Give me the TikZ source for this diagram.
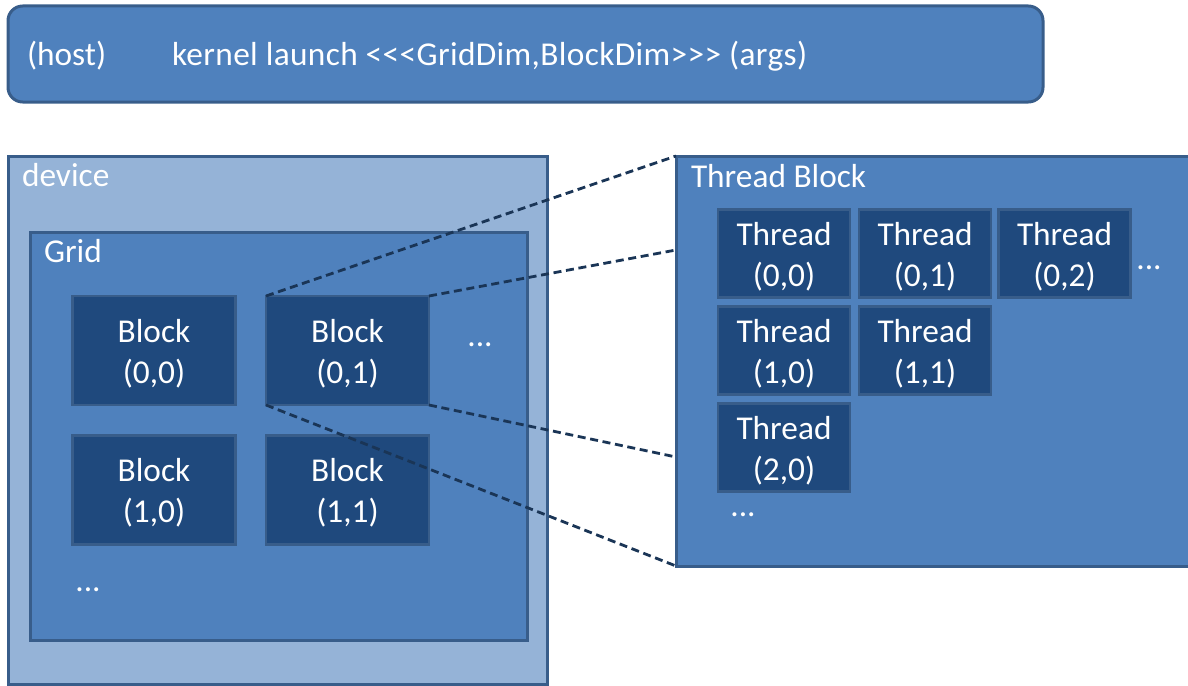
\documentclass[tikz,border=0pt]{standalone}
\usepackage{fontspec}
\setmainfont{Carlito}[Ligatures=TeXOff]
\definecolor{midblue}{HTML}{4F81BD}
\definecolor{paleblue}{HTML}{95B3D7}
\definecolor{navy}{HTML}{1F497D}
\definecolor{edgeblue}{HTML}{385D8A}
\definecolor{dashnavy}{HTML}{1A3556}
\begin{document}
\begin{tikzpicture}[x=0.75pt,y=-0.75pt,
  every node/.style={outer sep=0pt,inner sep=0pt,text=white,
    font=\fontsize{25pt}{31pt}\selectfont},
  every label/.style={align=center,text=white,yshift=-2.25pt},
  panel/.style={draw=edgeblue,line width=2.25pt,rectangle},
  cell/.style={draw=edgeblue,line width=1.9pt,fill=navy,rectangle},
  blockcell/.style={cell,minimum width=122.25pt,minimum height=81.75pt},
  threadcell/.style={cell,minimum width=99pt,minimum height=66pt},
  caption/.style={anchor=base west},
  dots/.style={anchor=base},
  zoomline/.style={draw=dashnavy,line width=2.1pt,dash pattern=on 6pt off 3.5pt}
]
\useasboundingbox (0,0) rectangle (1188,685);
\clip (0,0) rectangle (1188,685);

% host launch bar
\node[panel,fill=midblue,rounded corners=11pt,minimum width=776.25pt,minimum height=72pt]
  (host) at (525.5,54) {};
\node[caption] (hostlbl) at (27,65) {(host)};
\node[caption] (launch) at (172,65)
  {\addfontfeatures{LetterSpace=1.1}kernel launch <<<GridDim,BlockDim>>> (args)};

% device and grid
\node[panel,fill=paleblue,minimum width=404.25pt,minimum height=396pt] (device) at (277.5,420) {};
\node[caption] (devlbl) at (22,186) {device};
\node[panel,fill=midblue,minimum width=372.75pt,minimum height=306pt] (grid) at (278.5,436) {};
\node[caption] (gridlbl) at (44,262) {Grid};

\node[blockcell,label={center:Block\\(0,0)}] (b00) at (154,350.5) {};
\node[blockcell,label={center:Block\\(0,1)}] (b01) at (347.5,350.5) {};
\node[blockcell,label={center:Block\\(1,0)}] (b10) at (154,490) {};
\node[blockcell,label={center:Block\\(1,1)}] (b11) at (347.5,490) {};
\node[dots] (gdotsr) at (480,346) {...};
\node[dots] (gdotsb) at (88,591) {...};

% expanded thread block
\node[panel,fill=midblue,minimum width=393pt,minimum height=307.5pt] (tb) at (938,361) {};
\node[caption] (tblbl) at (691,187) {Thread Block};

\node[threadcell,label={center:Thread\\(0,0)}] (t00) at (784,253.5) {};
\node[threadcell,label={center:Thread\\(0,1)}] (t01) at (925,253.5) {};
\node[threadcell,label={center:Thread\\(0,2)}] (t02) at (1064.5,253.5) {};
\node[threadcell,label={center:Thread\\(1,0)}] (t10) at (784,350.5) {};
\node[threadcell,label={center:Thread\\(1,1)}] (t11) at (925,350.5) {};
\node[threadcell,label={center:Thread\\(2,0)}] (t20) at (784,447.5) {};
\node[dots] (tdotsr) at (1149,269) {...};
\node[dots] (tdotsb) at (743,516) {...};

% zoom lines from block (0,1) to the thread block
\coordinate (tbupper) at (676,250);
\coordinate (tblower) at (676,457);
\draw[zoomline] (b01.north west) -- (tb.north west);
\draw[zoomline] (b01.north east) -- (tbupper);
\draw[zoomline] (b01.south east) -- (tblower);
\draw[zoomline] (b01.south west) -- (tb.south west);
\end{tikzpicture}
\end{document}
